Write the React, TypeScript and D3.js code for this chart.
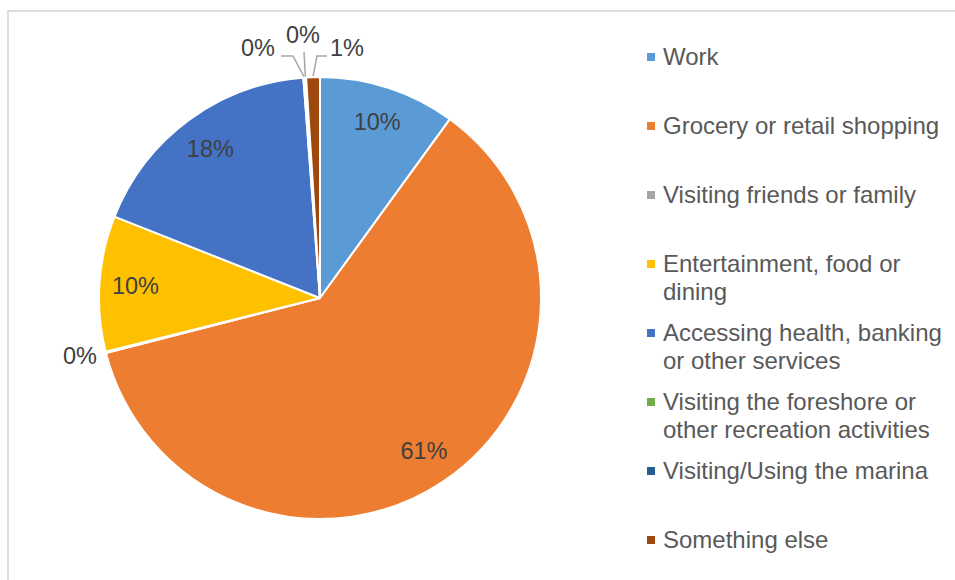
import React from "react";
import * as d3 from "d3";

const categories = [
  "Work",
  "Grocery or retail shopping",
  "Visiting friends or family",
  "Entertainment, food or dining",
  "Accessing health, banking or other services",
  "Visiting the foreshore or other recreation activities",
  "Visiting/Using the marina",
  "Something else",
];
const values = [10.0, 61.0, 0.1, 9.9, 17.8, 0.1, 0.1, 1.0];
const valueLabels = ["10%", "61%", "0%", "10%", "18%", "0%", "0%", "1%"];
const legendLines = [
  ["Work"],
  ["Grocery or retail shopping"],
  ["Visiting friends or family"],
  ["Entertainment, food or", "dining"],
  ["Accessing health, banking", "or other services"],
  ["Visiting the foreshore or", "other recreation activities"],
  ["Visiting/Using the marina"],
  ["Something else"],
];
const colors = ["#5B9BD5", "#ED7D31", "#A5A5A5", "#FFC000", "#4472C4", "#70AD47", "#255E91", "#9E480E"];

// outside-label placement (offsets from pie centre) for the tiny slices
const outside: Record<number, { tx: number; ty: number; anchor: string; leader?: [number, number][] }> = {
  2: { tx: -223, ty: 58, anchor: "end" },
  5: { tx: -45, ty: -250, anchor: "end", leader: [[-39, -242], [-27, -242]] },
  6: { tx: -17, ty: -263, anchor: "middle", leader: [[-16, -246]] },
  7: { tx: 10, ty: -250, anchor: "start", leader: [[7, -242], [-3, -242]] },
};

const W = 955;
const H = 580;
const cx = 320;
const cy = 298;
const R = 221;
const labelR = 185;
const font = "'Liberation Sans', Arial, sans-serif";

export default function App() {
  const pie = d3.pie<number>().sort(null).value((d) => d);
  const arcs = pie(values);
  const arc = d3.arc<d3.PieArcDatum<number>>().innerRadius(0).outerRadius(R);
  const labelArc = d3.arc<d3.PieArcDatum<number>>().innerRadius(labelR).outerRadius(labelR);
  const edgeArc = d3.arc<d3.PieArcDatum<number>>().innerRadius(R + 1).outerRadius(R + 1);

  const legendX = 647;
  const legendY0 = 57;
  const legendStep = 69;
  const lineH = 28;

  return (
    <svg width={W} height={H} style={{ position: "absolute", left: 0, top: 0, background: "#fff" }}>
      <rect x={8} y={11} width={2000} height={2000} fill="#fff" stroke="#D9D9D9" strokeWidth={1.75} />
      <g transform={`translate(${cx},${cy})`}>
        {arcs.map((a, i) => (
          <path key={i} d={arc(a) || ""} fill={colors[i]} stroke="#fff" strokeWidth={2} strokeLinejoin="round" />
        ))}
        {arcs.map((a, i) => {
          const o = outside[i];
          if (o) {
            const [ex, ey] = edgeArc.centroid(a);
            const pts = o.leader ? [...o.leader, [ex, ey]] : null;
            return (
              <g key={i}>
                {pts && (
                  <polyline
                    points={pts.map((p) => p.join(",")).join(" ")}
                    fill="none"
                    stroke="#A6A6A6"
                    strokeWidth={1.5}
                  />
                )}
                <text
                  x={o.tx}
                  y={o.ty}
                  dy="0.35em"
                  textAnchor={o.anchor as any}
                  fontFamily={font}
                  fontSize={23.5}
                  fill="#404040"
                >
                  {valueLabels[i]}
                </text>
              </g>
            );
          }
          const [lx, ly] = labelArc.centroid(a);
          return (
            <text key={i} x={lx} y={ly} dy="0.35em" textAnchor="middle" fontFamily={font} fontSize={23.5} fill="#404040">
              {valueLabels[i]}
            </text>
          );
        })}
      </g>
      <g>
        {categories.map((c, i) => {
          const y = legendY0 + i * legendStep;
          return (
            <g key={c}>
              <rect x={legendX} y={y - 4} width={8} height={8} fill={colors[i]} />
              <text x={legendX + 16} y={y} fontFamily={font} fontSize={24} fill="#595959">
                {legendLines[i].map((l, j) => (
                  <tspan key={j} x={legendX + 16} y={y + j * lineH} dy="0.35em">
                    {l}
                  </tspan>
                ))}
              </text>
            </g>
          );
        })}
      </g>
    </svg>
  );
}
